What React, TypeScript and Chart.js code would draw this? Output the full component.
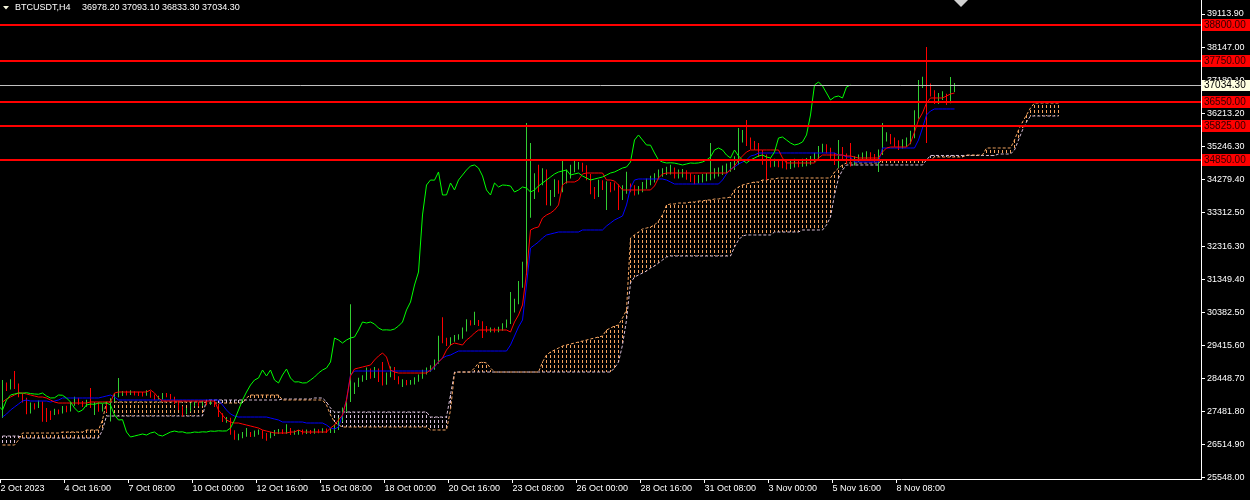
import React, { useEffect, useRef } from "react";
import { Chart, registerables } from "chart.js";

Chart.register(...registerables);

// ---------- data ----------
const symbolName = "BTCUSDT,H4";

const timeLabels = [
  "2 Oct 2023", "4 Oct 16:00", "7 Oct 08:00", "10 Oct 00:00", "12 Oct 16:00",
  "15 Oct 08:00", "18 Oct 00:00", "20 Oct 16:00", "23 Oct 08:00", "26 Oct 00:00",
  "28 Oct 16:00", "31 Oct 08:00", "3 Nov 00:00", "5 Nov 16:00", "8 Nov 08:00",
];
const timeLabelBars = [0, 16, 32, 48, 64, 80, 96, 112, 128, 144, 160, 176, 192, 208, 224];

const priceTicks = [
  39113.9, 38147.0, 37180.1, 36213.2, 35246.3, 34279.4, 33312.5, 32316.3,
  31349.4, 30382.5, 29415.6, 28448.7, 27481.8, 26514.9, 25548.0,
];
const priceMin = 25504.1;
const priceMax = 39523.7;

const levelLines = [38800, 37750, 36550, 35825, 34850];

const chikouShift = 26;

const opens = [
  27377, 28255, 28167, 28314, 28226, 27962, 27816, 27465, 27670, 27611,
  27728, 27523, 27436, 27430, 27494, 27465, 27582, 27523, 27699, 27845,
  27728, 27670, 27758, 27641, 27699, 27523, 27641, 27523, 27816, 27962,
  27992, 28021, 28015, 28030, 28005, 27992, 27985, 28021, 27933, 27875,
  27880, 27962, 27955, 27875, 27758, 27582, 27465, 27523, 27670, 27699,
  27690, 27728, 27720, 27735, 27670, 27377, 27231, 27240, 26879, 26733,
  26762, 26791, 26821, 26791, 26850, 26879, 26791, 26762, 26821, 26879,
  26908, 26879, 26885, 26850, 26855, 26879, 26870, 26885, 26879, 26908,
  26900, 26915, 26908, 26912, 26996, 27231, 27523, 27816, 28050, 28255,
  28401, 28460, 28694, 28519, 28694, 28401, 28314, 28548, 28723, 28460,
  28343, 28350, 28314, 28320, 28401, 28489, 28606, 28694, 28753, 28928,
  29631, 29572, 29484, 29572, 29631, 29660, 29865, 30099, 30070, 30099,
  30040, 29923, 29865, 29870, 29860, 29894, 29982, 30099, 30451, 30684,
  31182, 31562, 33231, 34109, 34255, 34250, 34490, 33816, 33820, 34168,
  33963, 34255, 34402, 34548, 34665, 34695, 34607, 34373, 33963, 33816,
  34168, 34051, 34109, 34100, 34080, 33904, 33963, 34051, 34021, 33904,
  33963, 34080, 34168, 34255, 34343, 34431, 34490, 34519, 34548, 34402,
  34431, 34460, 34373, 34314, 34255, 34285, 34314, 34343, 34402, 34460,
  34490, 34548, 34607, 34636, 34782, 35426, 35573, 35426, 35280, 35275,
  35046, 34841, 34782, 34753, 34760, 34750, 34724, 34695, 34724, 34753,
  34745, 34755, 34782, 34841, 34929, 35134, 35192, 35134, 34987, 34899,
  35134, 34958, 34841, 34753, 34841, 34899, 34958, 34987, 34929, 34899,
  35075, 35485, 35514, 35426, 35338, 35280, 35309, 35368, 35573, 36158,
  37036, 37124, 37007, 36802, 36597, 36685, 36714, 36656, 36978.2,
];

const highs = [
  28400, 28330, 28420, 28665, 28300, 28010, 27880, 27740, 27720, 27800,
  27770, 27580, 27500, 27560, 27540, 27640, 27650, 27760, 27910, 27880,
  27790, 27820, 28170, 27760, 27750, 27700, 27700, 27870, 28020, 28460,
  28080, 28090, 28100, 28070, 28060, 28050, 28100, 28070, 27980, 27940,
  28020, 28020, 27990, 27910, 27800, 27630, 27580, 27730, 27760, 27760,
  27800, 27780, 27800, 27790, 27710, 27430, 27320, 27300, 26930, 26830,
  26880, 27000, 26880, 26920, 26950, 26930, 26850, 26880, 26940, 26970,
  26960, 27110, 27000, 26920, 26940, 26950, 26950, 26940, 26980, 26960,
  26990, 26980, 26990, 27100, 27300, 27600, 27880, 30620, 28330, 28470,
  28540, 28770, 28740, 28780, 28740, 28930, 28620, 28800, 28780, 28510,
  28420, 28400, 28400, 28480, 28560, 28700, 28770, 28830, 29000, 29700,
  30240, 29640, 29650, 29720, 29740, 29940, 30180, 30150, 30400, 30160,
  30120, 29980, 29940, 29930, 29960, 30060, 30170, 30980, 30780, 31300,
  31860, 35924, 35338, 34450, 34700, 34600, 34560, 33960, 34280, 34250,
  34841, 34560, 34700, 34840, 34780, 34760, 34690, 34430, 34050, 34260,
  34250, 34220, 34200, 34180, 34130, 34100, 34500, 34150, 34100, 34080,
  34200, 34300, 34380, 34450, 34560, 34600, 34640, 34700, 34620, 34560,
  34580, 34540, 34450, 34400, 34400, 34430, 34460, 35338, 34600, 34620,
  34680, 34740, 34780, 34950, 35777, 35720, 36012, 35500, 35400, 35340,
  35130, 35000, 34900, 34880, 34870, 34850, 34820, 34850, 34880, 34870,
  34880, 34900, 34960, 35050, 35250, 35320, 35300, 35200, 35050, 35426,
  35220, 35030, 35340, 34950, 35000, 35060, 35100, 35070, 35020, 35150,
  35924, 35650, 35600, 35500, 35420, 35450, 35500, 35700, 36300, 37180,
  37280, 38148, 37080, 36880, 36800, 36850, 36780, 37270, 37093.1,
];

const lows = [
  27290, 28080, 28120, 28140, 27900, 27740, 27400, 27420, 27540, 27580,
  27180, 27170, 27230, 27380, 27400, 27420, 27460, 27480, 27650, 27680,
  27610, 27620, 27580, 27380, 27470, 27480, 27460, 27190, 27760, 27900,
  27930, 27950, 27960, 27950, 27930, 27920, 27940, 27880, 27810, 27820,
  27830, 27900, 27820, 27700, 27520, 27330, 27400, 27480, 27630, 27630,
  27640, 27660, 27670, 27610, 27320, 27170, 27150, 26800, 26650, 26640,
  26700, 26740, 26730, 26740, 26800, 26680, 26620, 26700, 26760, 26820,
  26820, 26830, 26790, 26800, 26800, 26810, 26820, 26820, 26830, 26840,
  26850, 26850, 26850, 26850, 26940, 27180, 27470, 27760, 27990, 28200,
  28350, 28400, 28440, 28460, 28340, 28240, 28260, 28480, 28400, 28280,
  28200, 28250, 28260, 28270, 28350, 28440, 28560, 28640, 28700, 28880,
  29480, 29400, 29420, 29520, 29580, 29610, 29820, 30000, 30010, 29980,
  29630, 29800, 29800, 29790, 29800, 29840, 29930, 30040, 30380, 30620,
  31100, 31480, 33150, 33700, 33900, 34100, 33520, 33500, 33760, 33850,
  33900, 34150, 34300, 34480, 34560, 34500, 34250, 33840, 33700, 33760,
  33960, 33377, 33900, 33950, 33377, 33670, 33850, 33900, 33800, 33830,
  33900, 34000, 34100, 34180, 34280, 34350, 34400, 34420, 34300, 34300,
  34330, 34260, 34200, 34130, 34150, 34180, 34220, 34250, 34300, 34360,
  34400, 34450, 34500, 34550, 34700, 35350, 35250, 35150, 35130, 34930,
  34700, 34255, 34620, 34640, 34630, 34600, 34560, 34580, 34620, 34630,
  34640, 34660, 34700, 34780, 34870, 35050, 35030, 34880, 34695, 34607,
  34850, 34730, 34650, 34680, 34780, 34830, 34870, 34820, 34780, 34490,
  34990, 35380, 35300, 35230, 35130, 35180, 35230, 35300, 35480, 36050,
  36950, 35338, 36700, 36480, 36480, 36600, 36451, 36500, 36833.3,
];

const closes = [
  28255, 28167, 28314, 28226, 27962, 27816, 27465, 27670, 27611, 27728,
  27523, 27436, 27430, 27494, 27465, 27582, 27523, 27699, 27845, 27728,
  27670, 27758, 27641, 27699, 27523, 27641, 27523, 27816, 27962, 27992,
  28021, 28015, 28030, 28005, 27992, 27985, 28021, 27933, 27875, 27880,
  27962, 27955, 27875, 27758, 27582, 27465, 27523, 27670, 27699, 27690,
  27728, 27720, 27735, 27670, 27377, 27231, 27240, 26879, 26733, 26762,
  26791, 26821, 26791, 26850, 26879, 26791, 26762, 26821, 26879, 26908,
  26879, 26885, 26850, 26855, 26879, 26870, 26885, 26879, 26908, 26900,
  26915, 26908, 26912, 26996, 27231, 27523, 27816, 28050, 28255, 28401,
  28460, 28694, 28519, 28694, 28401, 28314, 28548, 28723, 28460, 28343,
  28350, 28314, 28320, 28401, 28489, 28606, 28694, 28753, 28928, 29631,
  29572, 29484, 29572, 29631, 29660, 29865, 30099, 30070, 30099, 30040,
  29923, 29865, 29870, 29860, 29894, 29982, 30099, 30451, 30684, 31182,
  31562, 33231, 34109, 34255, 34250, 34490, 33816, 33820, 34168, 33963,
  34255, 34402, 34548, 34665, 34695, 34607, 34373, 33963, 33816, 34168,
  34051, 34109, 34100, 34080, 33904, 33963, 34051, 34021, 33904, 33963,
  34080, 34168, 34255, 34343, 34431, 34490, 34519, 34548, 34402, 34431,
  34460, 34373, 34314, 34255, 34285, 34314, 34343, 34402, 34460, 34490,
  34548, 34607, 34636, 34782, 35426, 35573, 35426, 35280, 35275, 35046,
  34841, 34782, 34753, 34760, 34750, 34724, 34695, 34724, 34753, 34745,
  34755, 34782, 34841, 34929, 35134, 35192, 35134, 34987, 34899, 35134,
  34958, 34841, 34753, 34841, 34899, 34958, 34987, 34929, 34899, 35075,
  35485, 35514, 35426, 35338, 35280, 35309, 35368, 35573, 36158, 37036,
  37124, 37007, 36802, 36597, 36685, 36714, 36656, 36978.2, 37034.3,
];

const tenkan = [
  27758, 27845, 27904, 27962, 28021, 28021, 27992, 27962, 27933, 27904,
  27904, 27875, 27816, 27758, 27728, 27728, 27728, 27728, 27728, 27728,
  27728, 27728, 27758, 27758, 27758, 27758, 27758, 27758, 28021, 28050,
  28050, 28050, 28050, 28050, 28050, 28050, 28050, 28109, 28021, 27875,
  27787, 27787, 27787, 27787, 27787, 27787, 27787, 27787, 27787, 27787,
  27787, 27787, 27787, 27787, 27523, 27377, 27231, 27172, 27143, 27143,
  27113, 27084, 27055, 27026, 26996, 26938, 26908, 26879, 26850, 26850,
  26850, 26850, 26879, 26879, 26938, 26879, 26879, 26879, 26879, 26879,
  26879, 26879, 26996, 27084, 27231, 27377, 27816, 28519, 28723, 28753,
  28782, 28811, 28840, 28987, 29104, 29192, 29074, 28694, 28635, 28606,
  28606, 28606, 28606, 28606, 28606, 28606, 28606, 28694, 28811, 28928,
  29045, 29280, 29426, 29484, 29455, 29426, 29572, 29660, 29777, 29865,
  29865, 29865, 29865, 29865, 29865, 29865, 29865, 29806, 30099, 30304,
  30597, 31533, 32792, 32850, 32880, 33143, 33231, 33289, 33377, 33524,
  34109, 34197, 34197, 34197, 34255, 34431, 34460, 34460, 34460, 34460,
  34460, 34255, 34255, 34226, 34109, 33963, 33963, 33963, 33963, 33963,
  33963, 33963, 33963, 34080, 34314, 34431, 34460, 34460, 34460, 34460,
  34460, 34460, 34460, 34460, 34460, 34460, 34460, 34460, 34460, 34460,
  34460, 34460, 34548, 34665, 34841, 34958, 35075, 35134, 35134, 35134,
  35134, 35134, 35134, 35134, 35134, 34899, 34753, 34753, 34753, 34753,
  34753, 34753, 34753, 34753, 34899, 34987, 34987, 34987, 34987, 34987,
  34987, 34958, 34958, 34929, 34899, 34899, 34899, 34899, 34899, 34899,
  35075, 35192, 35221, 35221, 35221, 35221, 35221, 35338, 35660, 36012,
  36217, 36509, 36656, 36656, 36656, 36656, 36714, 36773, 36802,
];

const kijun = [
  27318, 27406, 27523, 27611, 27699, 27787, 27816, 27787, 27787, 27787,
  27787, 27787, 27758, 27787, 27816, 27875, 27875, 27875, 27875, 27875,
  27875, 27875, 27875, 27875, 27875, 27904, 27933, 27962, 27904, 27816,
  27816, 27816, 27816, 27816, 27816, 27816, 27816, 27816, 27816, 27816,
  27816, 27816, 27816, 27816, 27816, 27816, 27816, 27816, 27816, 27816,
  27816, 27816, 27816, 27816, 27816, 27670, 27523, 27406, 27348, 27318,
  27318, 27318, 27318, 27318, 27318, 27318, 27318, 27289, 27260, 27231,
  27172, 27172, 27172, 27172, 27172, 27172, 27143, 27143, 27143, 27143,
  27143, 27084, 26996, 26967, 27026, 27377, 27816, 28548, 28665, 28665,
  28665, 28665, 28665, 28665, 28665, 28665, 28665, 28665, 28665, 28665,
  28665, 28665, 28665, 28665, 28665, 28665, 28665, 28665, 28782, 28928,
  29045, 29104, 29133, 29192, 29250, 29250, 29250, 29250, 29250, 29250,
  29250, 29250, 29250, 29250, 29250, 29250, 29250, 29426, 29689, 29953,
  30158, 31182, 32265, 32353, 32441, 32558, 32646, 32675, 32704, 32733,
  32733, 32733, 32733, 32733, 32733, 32792, 32792, 32792, 32792, 32792,
  32792, 32909, 32997, 33085, 33143, 33202, 33524, 34021, 34255, 34285,
  34285, 34285, 34285, 34285, 34285, 34285, 34255, 34197, 34138, 34138,
  34138, 34138, 34138, 34138, 34138, 34138, 34138, 34138, 34138, 34138,
  34255, 34431, 34577, 34636, 34724, 34782, 34841, 34958, 34987, 35046,
  35046, 35046, 35046, 35046, 35046, 35046, 35046, 35046, 35046, 35046,
  35046, 35046, 35046, 35046, 35046, 35046, 35046, 35046, 35046, 34987,
  34987, 34929, 34929, 34782, 34782, 34782, 34782, 34782, 34782, 34782,
  35192, 35192, 35192, 35192, 35192, 35192, 35192, 35192, 35192, 35426,
  35777, 36158, 36275, 36334, 36334, 36334, 36334, 36334, 36334,
];

// Senkou spans, already shifted 26 bars forward (265 bars)
const spanA = [
  26499, 26499, 26499, 26499, 26645, 26850, 26850, 26850, 26850, 26850,
  26850, 26850, 26850, 26850, 26850, 26879, 26879, 26879, 26879, 26879,
  26879, 26938, 26938, 26938, 26938, 27231, 27758, 27758, 27758, 27758,
  27758, 27758, 27758, 27758, 27758, 27758, 27758, 27758, 27758, 27758,
  27758, 27758, 27758, 27758, 27758, 27758, 27758, 27758, 27758, 27758,
  27758, 27728, 27728, 27728, 27728, 27728, 27728, 27728, 27728, 27728,
  27728, 27875, 27962, 27962, 27962, 27962, 27962, 27962, 27962, 27962,
  27816, 27816, 27816, 27816, 27816, 27816, 27816, 27816, 27816, 27816,
  27816, 27670, 27377, 27172, 27084, 27026, 27026, 27026, 27026, 27026,
  27026, 27026, 27026, 27026, 27026, 27026, 27026, 27026, 27026, 27026,
  27026, 27026, 27026, 27026, 27026, 27026, 27026, 26938, 26938, 26938,
  26938, 26938, 27523, 28606, 28635, 28635, 28635, 28635, 28753, 28899,
  28928, 28899, 28753, 28635, 28635, 28635, 28635, 28635, 28635, 28635,
  28635, 28635, 28635, 28635, 28635, 28928, 29133, 29221, 29280, 29338,
  29397, 29426, 29455, 29484, 29514, 29543, 29572, 29602, 29631, 29660,
  29689, 29865, 29923, 29982, 30011, 30216, 30451, 32558, 32646, 32733,
  32821, 32850, 32880, 32938, 33055, 33231, 33524, 33553, 33553, 33582,
  33582, 33582, 33611, 33611, 33641, 33641, 33670, 33670, 33699, 33699,
  33729, 33729, 33758, 33963, 34051, 34109, 34138, 34168, 34197, 34197,
  34255, 34255, 34285, 34285, 34314, 34314, 34314, 34314, 34314, 34314,
  34314, 34314, 34314, 34314, 34314, 34314, 34314, 34314, 34490, 34607,
  34695, 34753, 34753, 34753, 34753, 34753, 34753, 34753, 34753, 34753,
  34841, 34841, 34841, 34841, 34841, 34841, 34841, 34841, 34841, 34841,
  34841, 34841, 34841, 34929, 34929, 34929, 34929, 34929, 34929, 34929,
  34929, 34987, 34987, 34987, 34987, 34987, 35192, 35192, 35192, 35192,
  35192, 35192, 35192, 35426, 35719, 35953, 36158, 36363, 36509, 36509,
  36509, 36509, 36509, 36509, 36509,
];

const spanB = [
  26762, 26762, 26762, 26762, 26762, 26704, 26704, 26704, 26704, 26704,
  26704, 26704, 26704, 26704, 26704, 26704, 26704, 26704, 26704, 26704,
  26704, 26704, 26704, 26704, 26704, 26938, 27348, 27348, 27348, 27348,
  27348, 27348, 27348, 27348, 27348, 27348, 27348, 27348, 27348, 27348,
  27348, 27348, 27348, 27348, 27348, 27348, 27348, 27348, 27348, 27348,
  27348, 27816, 27816, 27816, 27816, 27816, 27816, 27816, 27816, 27816,
  27816, 27816, 27816, 27816, 27816, 27816, 27816, 27816, 27816, 27816,
  27845, 27845, 27845, 27845, 27845, 27845, 27845, 27845, 27875, 27875,
  27875, 27758, 27582, 27465, 27465, 27465, 27465, 27465, 27465, 27465,
  27465, 27465, 27465, 27465, 27465, 27465, 27465, 27465, 27465, 27465,
  27465, 27465, 27465, 27465, 27465, 27465, 27465, 27318, 27318, 27318,
  27318, 27318, 27962, 28635, 28635, 28635, 28635, 28635, 28635, 28635,
  28635, 28635, 28635, 28635, 28635, 28635, 28635, 28635, 28635, 28635,
  28635, 28635, 28635, 28635, 28635, 28635, 28635, 28635, 28635, 28635,
  28635, 28635, 28635, 28635, 28635, 28635, 28635, 28635, 28635, 28635,
  28635, 28635, 28635, 28753, 28928, 29426, 30158, 31240, 31416, 31475,
  31533, 31592, 31680, 31738, 31826, 31914, 32001, 32031, 32031, 32031,
  32031, 32031, 32031, 32031, 32031, 32031, 32031, 32031, 32031, 32031,
  32031, 32031, 32031, 32294, 32499, 32616, 32646, 32646, 32646, 32646,
  32646, 32646, 32646, 32733, 32733, 32733, 32733, 32733, 32733, 32733,
  32792, 32792, 32792, 32792, 32792, 32792, 32938, 33172, 33816, 34314,
  34548, 34695, 34695, 34695, 34695, 34695, 34695, 34695, 34695, 34695,
  34695, 34695, 34695, 34695, 34695, 34695, 34695, 34695, 34695, 34695,
  34695, 34841, 34973, 34973, 34973, 34973, 34973, 34973, 34973, 34973,
  34973, 34973, 34973, 34973, 34973, 34973, 34973, 34973, 34973, 35016,
  35016, 35016, 35016, 35134, 35426, 35719, 35953, 36129, 36129, 36129,
  36129, 36129, 36129, 36129, 36129,
];

// ---------- styling ----------
const BULL = "#32cd32";
const BEAR = "#ff0000";
const FONT = '"Liberation Sans", Arial, sans-serif';

function makeHatch(ctx: CanvasRenderingContext2D, color: string) {
  const c = document.createElement("canvas");
  c.width = 1;
  c.height = 5;
  const g = c.getContext("2d")!;
  g.fillStyle = color;
  g.fillRect(0, 0, 1, 3);
  return ctx.createPattern(c, "repeat")!;
}

const mt4Overlay = {
  id: "mt4Overlay",
  beforeDraw(chart: any) {
    const { ctx, width, height } = chart;
    ctx.save();
    ctx.fillStyle = "#000000";
    ctx.fillRect(0, 0, width, height);
    ctx.restore();
  },
  afterDatasetsDraw(chart: any) {
    const { ctx, chartArea } = chart;
    const y = chart.scales.y;
    ctx.save();
    const last = closes[closes.length - 1];
    const py = Math.round(y.getPixelForValue(last)) + 0.5;
    ctx.strokeStyle = "#c0c0c0";
    ctx.lineWidth = 1;
    ctx.beginPath();
    ctx.moveTo(chartArea.left, py);
    ctx.lineTo(chartArea.right, py);
    ctx.stroke();
    ctx.strokeStyle = "#ff0000";
    ctx.lineWidth = 2;
    for (const lv of levelLines) {
      const ly = Math.round(y.getPixelForValue(lv));
      ctx.beginPath();
      ctx.moveTo(chartArea.left, ly);
      ctx.lineTo(chartArea.right, ly);
      ctx.stroke();
    }
    ctx.restore();
  },
  afterDraw(chart: any) {
    const { ctx, chartArea, width } = chart;
    const y = chart.scales.y;
    const x = chart.scales.x;
    ctx.save();
    ctx.font = `10px ${FONT}`;
    ctx.textBaseline = "middle";
    ctx.textAlign = "left";
    const boxX = chartArea.right + 1;
    const boxW = width - boxX;
    for (const lv of levelLines) {
      const ly = Math.round(y.getPixelForValue(lv));
      ctx.fillStyle = "#ff0000";
      ctx.fillRect(boxX, ly - 6, boxW, 12);
      ctx.fillStyle = "#300000";
      ctx.fillText(lv.toFixed(2), boxX + 2, ly + 0.5);
    }
    const last = closes[closes.length - 1];
    const py = Math.round(y.getPixelForValue(last));
    ctx.fillStyle = "#ffffe0";
    ctx.fillRect(boxX, py - 5, boxW, 11);
    ctx.fillStyle = "#000000";
    ctx.fillText(last.toFixed(2), boxX + 2, py + 0.5);

    // title
    const n = closes.length - 1;
    ctx.font = `9px ${FONT}`;
    ctx.fillStyle = "#ffffff";
    ctx.fillText(symbolName, 15, 7.5);
    const vals = [opens[n], highs[n], lows[n], closes[n]].map((v) => v.toFixed(2)).join(" ");
    ctx.fillText(vals, 82, 7.5);
    ctx.fillStyle = "#f5f5dc";
    ctx.beginPath();
    ctx.moveTo(3, 6);
    ctx.lineTo(9, 6);
    ctx.lineTo(6, 9.5);
    ctx.closePath();
    ctx.fill();

    // chart shift marker
    const sx = Math.round(x.getPixelForValue(closes.length + 0.5));
    ctx.fillStyle = "#d0d0d0";
    ctx.beginPath();
    ctx.moveTo(sx - 7, 0);
    ctx.lineTo(sx + 7, 0);
    ctx.lineTo(sx, 7);
    ctx.closePath();
    ctx.fill();
    ctx.restore();
  },
};

export default function App() {
  const ref = useRef<HTMLCanvasElement>(null);

  useEffect(() => {
    document.body.style.margin = "0";
    document.body.style.background = "#000";
    const canvas = ref.current!;
    const ctx = canvas.getContext("2d")!;
    const orangeHatch = makeHatch(ctx, "#f4a460");
    const thistleHatch = makeHatch(ctx, "#d8bfd8");

    const candleColor = closes.map((c, i) => (c >= opens[i] ? BULL : BEAR));
    const wickData = closes.map((_, i) => ({ x: i, y: [lows[i], highs[i]] }));
    const bodyData = closes.map((c, i) => ({ x: i, y: [opens[i], c] }));
    const cloudData = spanA.map((a, i) => ({ x: i, y: [a, spanB[i]] }));

    const barCommon = {
      grouped: false,
      borderWidth: 0,
      inflateAmount: 0,
      barThickness: 1,
    };

    const chart = new Chart(ctx, {
      type: "bar",
      data: {
        datasets: [
          {
            type: "line",
            label: "Chikou",
            data: closes.map((c, i) => ({ x: i - chikouShift, y: c })),
            borderColor: "#00ff00",
            borderWidth: 1,
            pointRadius: 0,
            order: 1,
          } as any,
          {
            type: "line",
            label: "Tenkan",
            data: tenkan.map((v, i) => ({ x: i, y: v })),
            borderColor: "#ff0000",
            borderWidth: 1,
            pointRadius: 0,
            order: 2,
          },
          {
            type: "line",
            label: "Kijun",
            data: kijun.map((v, i) => ({ x: i, y: v })),
            borderColor: "#0000ff",
            borderWidth: 1,
            pointRadius: 0,
            order: 3,
          },
          {
            type: "bar",
            label: "Body",
            data: bodyData,
            backgroundColor: candleColor,
            maxBarThickness: 3,
            minBarLength: 1,
            order: 4,
            ...barCommon,
          },
          {
            type: "bar",
            label: "Wick",
            data: wickData,
            backgroundColor: candleColor,
            maxBarThickness: 1,
            order: 5,
            ...barCommon,
          },
          {
            type: "line",
            label: "Senkou A",
            data: spanA.map((v, i) => ({ x: i, y: v })),
            borderColor: "#f4a460",
            borderDash: [3, 2],
            borderWidth: 1,
            pointRadius: 0,
            order: 6,
          },
          {
            type: "line",
            label: "Senkou B",
            data: spanB.map((v, i) => ({ x: i, y: v })),
            borderColor: "#d8bfd8",
            borderDash: [3, 2],
            borderWidth: 1,
            pointRadius: 0,
            order: 7,
          },
          {
            type: "bar",
            label: "Cloud",
            data: cloudData,
            backgroundColor: (c: any) =>
              spanA[c.dataIndex] >= spanB[c.dataIndex] ? orangeHatch : thistleHatch,
            maxBarThickness: 1,
            order: 8,
            ...barCommon,
          },
        ] as any,
      },
      options: {
        responsive: false,
        devicePixelRatio: 1,
        animation: false,
        events: [],
        layout: { padding: 0 },
        plugins: {
          legend: { display: false },
          tooltip: { enabled: false },
          title: { display: false },
        },
        scales: {
          x: {
            type: "linear",
            min: -0.625,
            max: 299.625,
            offset: false,
            grid: {
              display: true,
              offset: false,
              drawOnChartArea: false,
              drawTicks: true,
              tickLength: 4,
              color: "#ffffff",
            },
            border: { display: true, color: "#ffffff", width: 1 },
            ticks: {
              color: "#ffffff",
              font: { family: FONT, size: 9 },
              align: "start",
              padding: 0,
              autoSkip: false,
              maxRotation: 0,
              minRotation: 0,
              callback: (_v: any, idx: number) => timeLabels[idx],
            },
            afterBuildTicks: (s: any) => {
              s.ticks = timeLabelBars.map((b) => ({ value: b - 0.5 }));
            },
            afterFit: (s: any) => {
              s.height = 21;
              s.paddingLeft = 0;
              s.paddingRight = 0;
            },
          },
          y: {
            type: "linear",
            position: "right",
            min: priceMin,
            max: priceMax,
            grid: {
              display: true,
              drawOnChartArea: false,
              drawTicks: true,
              tickLength: 4,
              color: "#ffffff",
            },
            border: { display: true, color: "#ffffff", width: 1 },
            ticks: {
              color: "#ffffff",
              font: { family: FONT, size: 9 },
              padding: 2,
              autoSkip: false,
              callback: (v: any) => Number(v).toFixed(2),
            },
            afterBuildTicks: (s: any) => {
              s.ticks = priceTicks.map((v) => ({ value: v }));
            },
            afterFit: (s: any) => {
              s.width = 49;
              s.paddingTop = 0;
              s.paddingBottom = 0;
            },
          },
        },
      } as any,
      plugins: [mt4Overlay],
    });

    return () => chart.destroy();
  }, []);

  return (
    <div style={{ width: 1250, height: 500, background: "#000" }}>
      <canvas ref={ref} width={1250} height={500} style={{ display: "block" }} />
    </div>
  );
}
